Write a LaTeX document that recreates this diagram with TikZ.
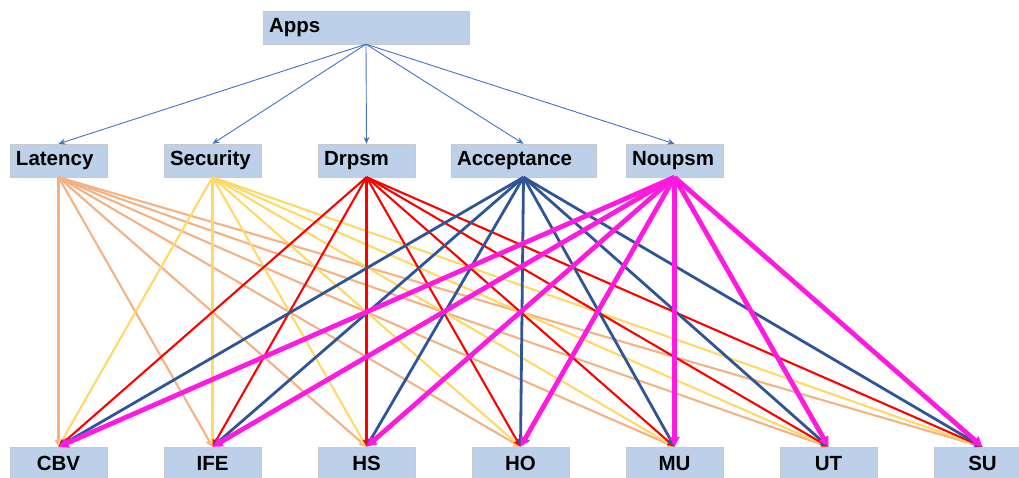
\documentclass[tikz,border=0pt]{standalone}
\usepackage{fontspec}
\setmainfont{Liberation Sans}
\usetikzlibrary{arrows.meta}
\definecolor{boxfill}{HTML}{BDD0E9}
\definecolor{boxline}{HTML}{C9C9C9}
\definecolor{appblue}{HTML}{4472C4}
\definecolor{latcol}{HTML}{F4B183}
\definecolor{seccol}{HTML}{FFD966}
\definecolor{drpcol}{HTML}{FF0000}
\definecolor{acccol}{HTML}{2F5597}
\definecolor{noucol}{HTML}{FF1AE0}

\begin{document}
\begin{tikzpicture}[x=1pt,y=-1pt,
    topbox/.style={draw=boxline,fill=boxfill,minimum height=33pt,inner xsep=6pt,inner ysep=0pt,
      text width=#1,align=left,font=\fontsize{20.5}{24}\selectfont\bfseries},
    altbox/.style={draw=boxline,fill=boxfill,minimum height=33pt,minimum width=97pt,inner sep=0pt,
      font=\fontsize{20.5}{24}\selectfont\bfseries}]
    \useasboundingbox (0,0) rectangle (1019,477);

    % goal
    \node[topbox=194pt] (apps) at (366,27.5) {Apps};

    % criteria
    \node[topbox=85pt] (lat) at (58.5,160.5) {Latency};
    \node[topbox=85pt] (sec) at (212.5,160.5) {Security};
    \node[topbox=85pt] (drp) at (366.5,160.5) {Drpsm};
    \node[topbox=133pt] (acc) at (523.5,160.5) {Acceptance};
    \node[topbox=85pt] (nou) at (674.5,160.5) {Noupsm};

    % alternatives
    \node[altbox] (cbv) at (58.5,463.5) {CBV};
    \node[altbox] (ife) at (212.5,463.5) {IFE};
    \node[altbox] (hs) at (366.5,463.5) {HS};
    \node[altbox] (ho) at (520.5,463.5) {HO};
    \node[altbox] (mu) at (674.5,463.5) {MU};
    \node[altbox] (ut) at (828.5,463.5) {UT};
    \node[altbox] (su) at (982.5,463.5) {SU};

    \foreach \c in {lat,sec,drp,acc,nou}
      \draw [-{Stealth[length=7pt,width=6pt]}][appblue,line width=0.9pt] (apps.south) -- (\c.north);

    \foreach \c/\col/\lw/\tip in {lat/latcol/2.1pt/7pt, sec/seccol/2.1pt/7pt, drp/drpcol/2.1pt/7pt,
                                  acc/acccol/2.8pt/8pt, nou/noucol/4.8pt/10pt}
      \foreach \a in {cbv,ife,hs,ho,mu,ut,su}
        \draw [-{Triangle[length=\tip,width=\tip]}][\col,line width=\lw] (\c.south) -- (\a.north);
  \end{tikzpicture}
\end{document}
